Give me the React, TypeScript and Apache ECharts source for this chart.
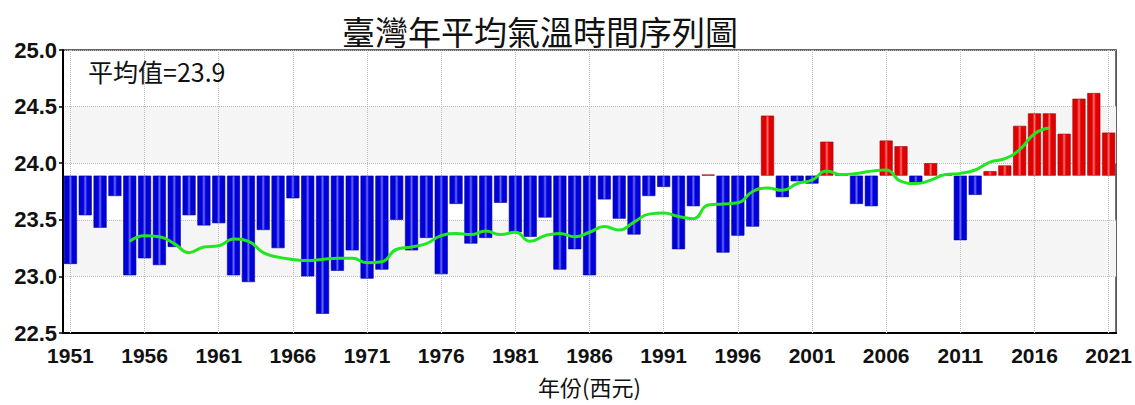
import React, { useEffect, useRef } from "react";
import * as echarts from "echarts";

const years: string[] = Array.from({ length: 71 }, (_, i) => String(1951 + i));

const temps: number[] = [
  23.11, 23.54, 23.43, 23.71, 23.01, 23.16, 23.10, 23.26, 23.54, 23.45,
  23.47, 23.01, 22.95, 23.41, 23.25, 23.69, 23.00, 22.67, 23.05, 23.23,
  22.98, 23.06, 23.50, 23.23, 23.34, 23.02, 23.64, 23.29, 23.34, 23.65,
  23.39, 23.35, 23.52, 23.06, 23.24, 23.01, 23.68, 23.51, 23.37, 23.71,
  23.79, 23.24, 23.62, 23.90, 23.21, 23.36, 23.44, 24.42, 23.70, 23.84,
  23.82, 24.19, 23.90, 23.64, 23.62, 24.20, 24.15, 23.83, 24.00, 23.90,
  23.32, 23.72, 23.93, 23.98, 24.33, 24.44, 24.44, 24.26, 24.57, 24.62,
  24.27,
];

const runningMean: (number | null)[] = [
  null, null, null, null,
  23.31, 23.36, 23.35, 23.29, 23.21, 23.26, 23.27, 23.33, 23.31, 23.21,
  23.17, 23.15, 23.14, 23.15, 23.16, 23.16, 23.12, 23.13, 23.24, 23.26,
  23.29, 23.36, 23.38, 23.37, 23.40, 23.37, 23.39, 23.31, 23.36, 23.38,
  23.35, 23.39, 23.44, 23.41, 23.48, 23.55, 23.56, 23.53, 23.51, 23.63,
  23.64, 23.65, 23.75, 23.78, 23.76, 23.82, 23.85, 23.93, 23.90, 23.91,
  23.93, 23.94, 23.84, 23.82, 23.85, 23.90, 23.91, 23.94, 24.01, 24.04,
  24.12, 24.26, 24.31,
  null, null, null, null,
];

const MEAN = 23.89;
const meanLabel = "平均值=23.9";
const titleText = "臺灣年平均氣溫時間序列圖";
const xName = "年份(西元)";

const grad = (edge: string, mid: string) => ({
  type: "linear",
  x: 0,
  y: 0,
  x2: 1,
  y2: 0,
  colorStops: [
    { offset: 0, color: edge },
    { offset: 0.35, color: edge },
    { offset: 0.5, color: mid },
    { offset: 0.65, color: edge },
    { offset: 1, color: edge },
  ],
});

export default function App() {
  const ref = useRef<HTMLDivElement>(null);
  useEffect(() => {
    if (!ref.current) return;
    const chart = echarts.init(ref.current, null, { renderer: "svg" });
    const blue = grad("#0000d8", "#6a6aff");
    const red = grad("#e00000", "#ff7070");
    const baseData = temps.map((v) => Math.min(v, MEAN));
    const diffData = temps.map((v) => ({
      value: Math.abs(v - MEAN),
      itemStyle: {
        color: v >= MEAN ? red : blue,
        borderColor: v >= MEAN ? "#a00000" : "#00009a",
        borderWidth: 0.6,
      },
    }));
    const markYears = years.filter((_, i) => i % 5 === 0);
    const labelFont = "'Liberation Sans', Arial, sans-serif";
    chart.setOption({
      animation: false,
      backgroundColor: "#ffffff",
      title: {
        text: titleText,
        left: 337,
        top: 9,
        textStyle: {
          fontFamily: "'Noto Sans CJK TC', serif",
          fontWeight: "normal",
          fontSize: 33,
          color: "#111",
        },
      },
      graphic: [
        {
          type: "text",
          left: 88,
          top: 58,
          style: {
            text: meanLabel,
            fontFamily: "'Noto Sans CJK TC', sans-serif",
            fontSize: 25,
            fill: "#111",
          },
          z: 100,
        },
      ],
      grid: {
        left: 63,
        right: 18,
        top: 50,
        bottom: 72,
        show: true,
        borderColor: "#333",
        borderWidth: 1.5,
        backgroundColor: "transparent",
      },
      xAxis: {
        type: "category",
        data: years,
        boundaryGap: true,
        name: xName,
        nameLocation: "middle",
        nameGap: 42,
        nameTextStyle: {
          fontFamily: "'Noto Sans CJK TC', sans-serif",
          fontSize: 22,
          color: "#111",
        },
        axisLine: { lineStyle: { color: "#000", width: 2 } },
        axisTick: {
          interval: 4,
          alignWithLabel: true,
          length: 6,
          lineStyle: { color: "#000", width: 1.5 },
        },
        axisLabel: {
          interval: 4,
          margin: 12,
          fontFamily: labelFont,
          fontWeight: "bold",
          fontSize: 21,
          color: "#111",
        },
        splitLine: { show: false },
      },
      yAxis: {
        type: "value",
        min: 22.5,
        max: 25,
        interval: 0.5,
        axisLine: { show: true, lineStyle: { color: "#000", width: 2 } },
        axisTick: { show: true, length: 4, lineStyle: { color: "#000", width: 1.5 } },
        axisLabel: {
          margin: 6,
          fontFamily: "'Liberation Sans', Arial, sans-serif",
          fontWeight: "bold",
          fontSize: 22,
          color: "#111",
          formatter: (v: number) => v.toFixed(1),
        },
        splitLine: { show: true, lineStyle: { type: "dotted", color: "#bbbbbb", width: 1 } },
        splitArea: {
          show: true,
          areaStyle: { color: ["rgba(255,255,255,0)", "#f5f5f5"] },
        },
      },
      series: [
        {
          type: "bar",
          name: "base",
          stack: "t",
          data: baseData,
          itemStyle: { color: "rgba(0,0,0,0)" },
          barCategoryGap: "12%",
          silent: true,
          z: 2,
          markLine: {
            z: 1,
            silent: true,
            symbol: "none",
            label: { show: false },
            lineStyle: { type: "dotted", color: "#bbbbbb", width: 1 },
            data: markYears.map((y) => ({ xAxis: y })),
          },
        },
        {
          type: "bar",
          name: "anomaly",
          stack: "t",
          data: diffData,
          barCategoryGap: "12%",
          z: 3,
        },
        {
          type: "line",
          name: "mean",
          data: runningMean.map((v) => (v === null ? "-" : v)),
          smooth: true,
          symbol: "none",
          connectNulls: false,
          lineStyle: { color: "#22e622", width: 3 },
          itemStyle: { color: "#22e622" },
          z: 5,
        },
      ],
    });
    return () => chart.dispose();
  }, []);
  return (
    <div
      ref={ref}
      style={{ position: "fixed", left: 0, top: 0, width: 1135, height: 405 }}
    />
  );
}
